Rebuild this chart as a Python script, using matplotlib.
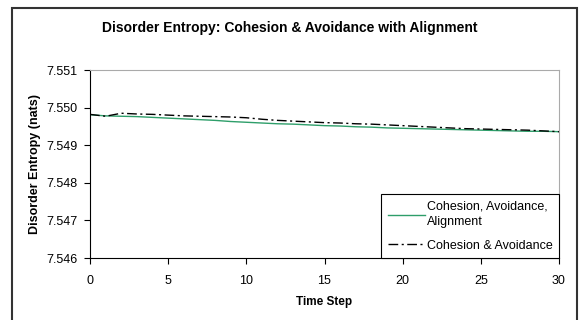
import matplotlib.pyplot as plt
from matplotlib.patches import Rectangle

plt.rcParams['font.family'] = ['Liberation Sans', 'DejaVu Sans']

# 数据
steps = list(range(31))
align = [7.54981, 7.54978, 7.54977, 7.54976, 7.54974, 7.54972, 7.54970, 7.54968,
         7.54966, 7.54963, 7.54961, 7.54959, 7.54957, 7.54956, 7.54954, 7.54952,
         7.54951, 7.54949, 7.54948, 7.54946, 7.54945, 7.54944, 7.54943, 7.54942,
         7.54941, 7.54940, 7.54939, 7.54938, 7.54937, 7.54937, 7.54936]
no_align = [7.54982, 7.54977, 7.54985, 7.54983, 7.54982, 7.54980, 7.54978, 7.54977,
            7.54976, 7.54975, 7.54973, 7.54969, 7.54966, 7.54964, 7.54962, 7.54960,
            7.54959, 7.54957, 7.54956, 7.54954, 7.54952, 7.54950, 7.54948, 7.54946,
            7.54944, 7.54943, 7.54942, 7.54941, 7.54940, 7.54938, 7.54936]
yticks = [7.546, 7.547, 7.548, 7.549, 7.550, 7.551]
xticks = [0, 5, 10, 15, 20, 25, 30]

fig = plt.figure(figsize=(5.79, 3.2), dpi=100)

# 外框
fig.patches.append(Rectangle((12 / 579, -0.1), 565 / 579, 1.1 - 8 / 320,
                             transform=fig.transFigure, fill=False,
                             edgecolor='#333333', linewidth=1.5))

ax = fig.add_axes([90 / 579, 1 - 258 / 320, 469 / 579, 188 / 320])
ax.plot(steps, align, color='#2e9e6a', linewidth=1, label='Cohesion, Avoidance,\nAlignment')
ax.plot(steps, no_align, color='black', linewidth=1, linestyle=(0, (7, 2.5, 1.5, 2.5)),
        label='Cohesion & Avoidance')

ax.set_xlim(0, 30)
ax.set_ylim(7.546, 7.551)
ax.set_xticks(xticks)
ax.set_yticks(yticks)
ax.set_yticklabels(['%.3f' % v for v in yticks])
ax.tick_params(labelsize=9, length=4, width=0.8, direction='out')
ax.tick_params(axis='x', pad=8)
ax.tick_params(axis='y', pad=5)
for s in ['top', 'right']:
    ax.spines[s].set_color('#aaaaaa')
for s in ['left', 'bottom']:
    ax.spines[s].set_color('black')

fig.text(290 / 579, 1 - 28 / 320, 'Disorder Entropy: Cohesion & Avoidance with Alignment',
         ha='center', va='center', fontsize=10, fontweight='bold')
ax.set_xlabel('Time Step', fontsize=8.5, fontweight='bold', labelpad=7)
ax.set_ylabel('Disorder Entropy (nats)', fontsize=9, fontweight='bold', labelpad=4)

leg = ax.legend(loc='lower right', borderaxespad=0, fontsize=9, handlelength=3.0,
                handletextpad=0.15, fancybox=False, framealpha=1, borderpad=0.5,
                labelspacing=0.9)
for t in leg.get_texts():
    t.set_linespacing(1.45)
leg.get_frame().set_edgecolor('black')
leg.get_frame().set_linewidth(0.8)

plt.savefig('out.png', dpi=100)
